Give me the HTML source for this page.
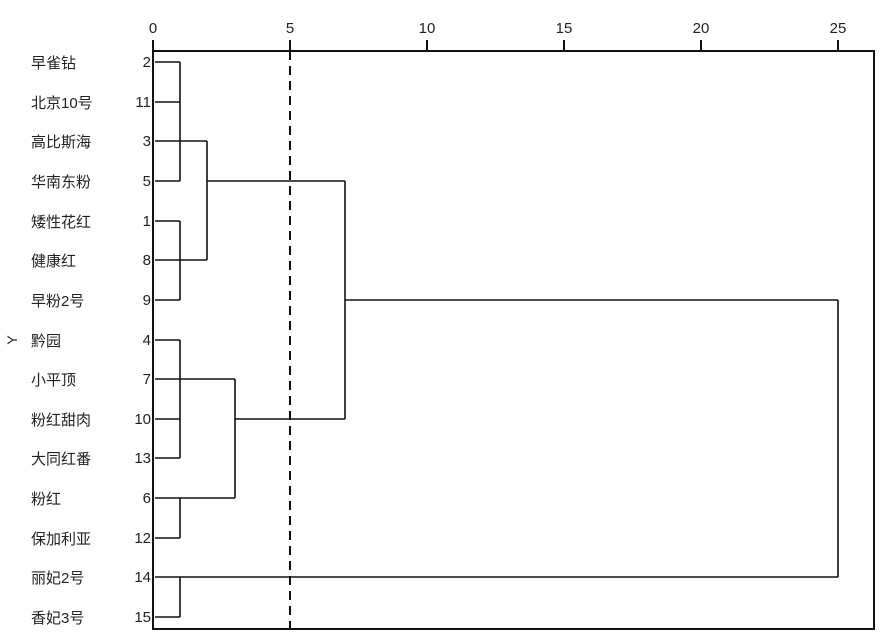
<!DOCTYPE html>
<html><head><meta charset="utf-8"><style>
html,body{margin:0;padding:0;background:#fff;}
svg{display:block;}
text{font-family:"Liberation Sans","Noto Sans CJK SC",sans-serif;fill:#222;}
</style></head><body>
<svg width="886" height="638" viewBox="0 0 886 638" xmlns="http://www.w3.org/2000/svg">
<g stroke="#111" stroke-width="2" fill="none">
<rect x="153" y="51" width="721" height="578"/>
<line x1="153" y1="40" x2="153" y2="51"/>
<line x1="290" y1="40" x2="290" y2="51"/>
<line x1="427" y1="40" x2="427" y2="51"/>
<line x1="564" y1="40" x2="564" y2="51"/>
<line x1="701" y1="40" x2="701" y2="51"/>
<line x1="838" y1="40" x2="838" y2="51"/>
<line x1="290" y1="51" x2="290" y2="629" stroke-dasharray="9,6"/>
</g>
<g stroke="#111" stroke-width="1.6" fill="none">
<path d="M155 62H180M155 102H180M155 141H180M155 181H180M155 221H180M155 260H180M155 300H180M155 340H180M155 379H180M155 419H180M155 458H180M155 498H180M155 538H180M155 577H180M155 617H180"/>
<path d="M180 62V181"/>
<path d="M180 141H207"/>
<path d="M180 221V300"/>
<path d="M180 260H207"/>
<path d="M207 141V260"/>
<path d="M207 181H345"/>
<path d="M180 340V458"/>
<path d="M180 379H235"/>
<path d="M180 498V538"/>
<path d="M180 498H235"/>
<path d="M235 379V498"/>
<path d="M235 419H345"/>
<path d="M345 181V419"/>
<path d="M345 300H838"/>
<path d="M838 300V577"/>
<path d="M180 577V617"/>
<path d="M180 577H838"/>
</g>
<g font-size="15" text-anchor="middle">
<text x="153" y="33">0</text>
<text x="290" y="33">5</text>
<text x="427" y="33">10</text>
<text x="564" y="33">15</text>
<text x="701" y="33">20</text>
<text x="838" y="33">25</text>
</g>
<g font-size="15" text-anchor="end">
<text x="151" y="67">2</text>
<text x="151" y="107">11</text>
<text x="151" y="146">3</text>
<text x="151" y="186">5</text>
<text x="151" y="226">1</text>
<text x="151" y="265">8</text>
<text x="151" y="305">9</text>
<text x="151" y="345">4</text>
<text x="151" y="384">7</text>
<text x="151" y="424">10</text>
<text x="151" y="463">13</text>
<text x="151" y="503">6</text>
<text x="151" y="543">12</text>
<text x="151" y="582">14</text>
<text x="151" y="622">15</text>
</g>
<g font-size="15">
<text x="31" y="68">早雀钻</text>
<text x="31" y="108">北京10号</text>
<text x="31" y="147">高比斯海</text>
<text x="31" y="187">华南东粉</text>
<text x="31" y="227">矮性花红</text>
<text x="31" y="266">健康红</text>
<text x="31" y="306">早粉2号</text>
<text x="31" y="346">黔园</text>
<text x="31" y="385">小平顶</text>
<text x="31" y="425">粉红甜肉</text>
<text x="31" y="464">大同红番</text>
<text x="31" y="504">粉红</text>
<text x="31" y="544">保加利亚</text>
<text x="31" y="583">丽妃2号</text>
<text x="31" y="623">香妃3号</text>
</g>
<text x="0" y="0" font-size="14" text-anchor="middle" transform="translate(17,340) rotate(-90)">Y</text>
</svg>
</body></html>
